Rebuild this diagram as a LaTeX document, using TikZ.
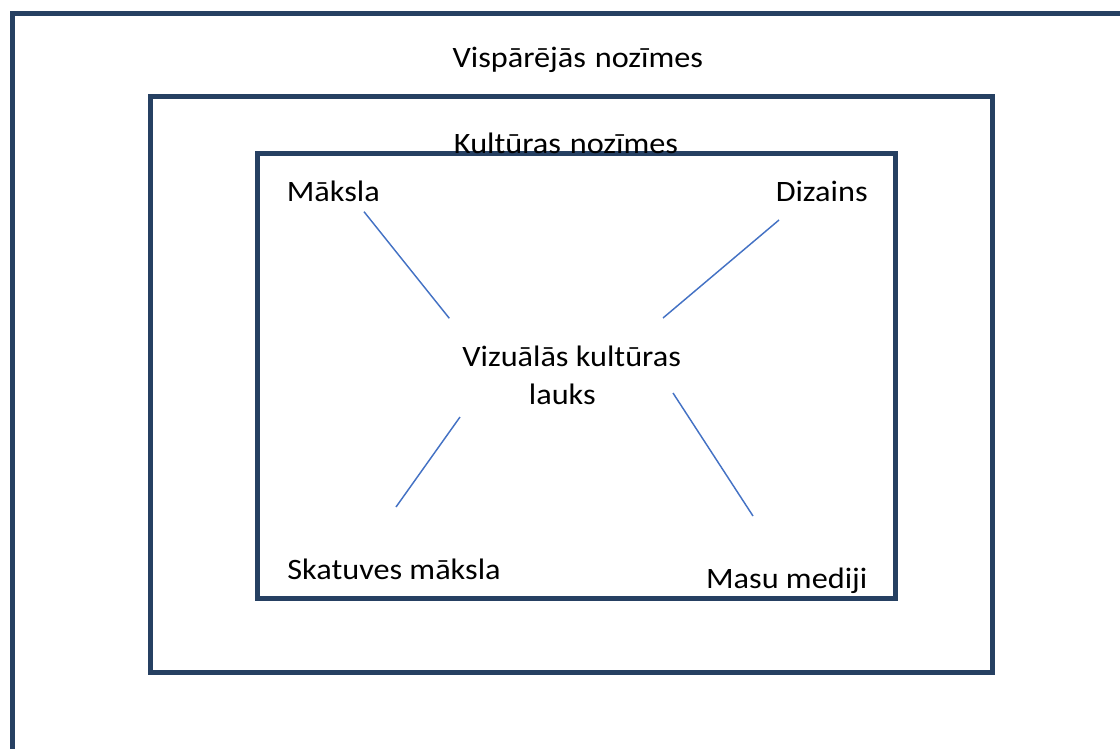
\documentclass[tikz,border=0pt]{standalone}
\usepackage{fontspec}
\setmainfont{Carlito}[FakeStretch=1.09]
\definecolor{boxblue}{RGB}{38,64,98}
\definecolor{linkblue}{RGB}{68,114,196}
\begin{document}
\begin{tikzpicture}[x=0.75pt,y=-0.75pt,
  frame/.style={draw=boxblue,line width=3.75pt},
  link/.style={draw=linkblue,line width=1.1pt},
  lbl/.style={anchor=base,inner sep=0pt,font=\fontsize{22.2}{26}\selectfont}]
\useasboundingbox (0,0) rectangle (1120,749);
\clip (0,0) rectangle (1120,749);
\draw[frame] (12.5,13.5) rectangle (1140,770);
\draw[frame] (150.8,96.5) rectangle (992.5,672.5);
\draw[frame] (257.5,153.5) rectangle (895.8,598.5);
\node[lbl] (vispar) at (577.8,67.7) {Vispārējās\hspace{0.3em}nozīmes};
\node[lbl] (kult) at (566,153) {Kultūras\hspace{0.3em}nozīmes};
\node[lbl] (maksla) at (333.3,201.5) {Māksla};
\node[lbl] (dizains) at (821.7,201.7) {Dizains};
\node[lbl] (viz) at (571.7,366.7) {Vizuālās kultūras};
\node[lbl] (lauks) at (562.3,404.3) {lauks};
\node[lbl] (skat) at (394,579.3) {Skatuves māksla};
\node[lbl] (masu) at (786.7,588.3) {Masu mediji};
\coordinate (m1) at (364,211.7);
\coordinate (m2) at (449.3,318.3);
\coordinate (d1) at (779,220);
\coordinate (d2) at (663,318);
\coordinate (s1) at (460,417);
\coordinate (s2) at (396,507);
\coordinate (a1) at (673,393);
\coordinate (a2) at (753,516);
\draw[link] (m1) -- (m2);
\draw[link] (d1) -- (d2);
\draw[link] (s1) -- (s2);
\draw[link] (a1) -- (a2);
\end{tikzpicture}
\end{document}
